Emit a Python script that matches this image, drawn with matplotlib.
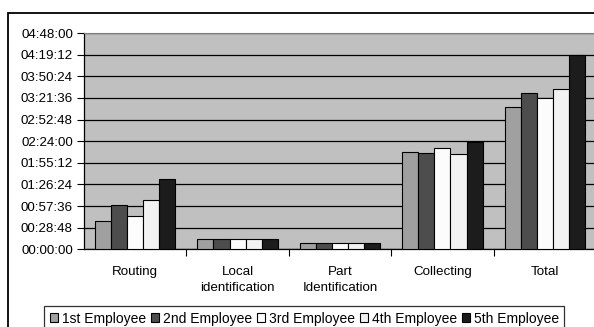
#time spent per task by each employee, grouped bars

import matplotlib.pyplot as plt
import matplotlib.patches as patches
from matplotlib.ticker import FuncFormatter, FixedLocator
import numpy as np

# task categories and times in minutes for each employee
tasks = ["Routing", "Local\nidentification", "Part\nIdentification", "Collecting", "Total"]
employees = ["1st Employee", "2nd Employee", "3rd Employee", "4th Employee", "5th Employee"]
emp1 = [37.3, 13.3, 8.0, 130.0, 189.0]
emp2 = [58.6, 13.3, 8.0, 127.8, 207.7]
emp3 = [44.0, 13.3, 8.0, 134.9, 201.9]
emp4 = [65.6, 13.3, 8.0, 126.5, 213.8]
emp5 = [93.6, 13.3, 8.0, 142.9, 258.7]
colors = ["#a0a0a0", "#4d4d4d", "#fcfcfc", "#f2f2f2", "#1c1c1c"]


def hms(v, pos=None):
    secs = int(round(v * 60))
    return "%02d:%02d:%02d" % (secs // 3600, (secs % 3600) // 60, secs % 60)


plt.rcParams['font.family'] = ['Liberation Sans', 'DejaVu Sans']
fig = plt.figure(figsize=(5.94, 3.27), dpi=100)
ax = fig.add_axes([84 / 594, 1 - 249.3 / 327, 512 / 594, 216.3 / 327])
ax.set_facecolor("#c0c0c0")

x = np.arange(len(tasks))
width = 0.157
for i, vals in enumerate([emp1, emp2, emp3, emp4, emp5]):
    ax.bar(x + (i - 2) * width, vals, width, color=colors[i], edgecolor="black",
           linewidth=0.8, label=employees[i], zorder=3)

yticks = np.arange(0, 288.1, 28.8)
ax.set_ylim(0, 288)
ax.set_xlim(-0.5, 4.5)
ax.yaxis.set_major_locator(FixedLocator(yticks))
ax.yaxis.set_major_formatter(FuncFormatter(hms))
ax.set_xticks(x)
ax.set_xticklabels(tasks, fontsize=9.6, linespacing=1.4, va="top")
ax.xaxis.set_minor_locator(FixedLocator(np.arange(0.5, 4.5, 1.0)))
ax.tick_params(axis="x", which="major", length=0, pad=12)
ax.tick_params(axis="x", which="minor", length=5, width=0.8, direction="out")
ax.tick_params(axis="y", length=5, width=0.8, pad=3, labelsize=9.6)
ax.yaxis.grid(True, color="black", linewidth=0.9, zorder=1)
ax.set_axisbelow(True)
ax.spines["left"].set_linewidth(0.9)
ax.spines["bottom"].set_linewidth(0.9)
ax.spines["top"].set_color("#808080")
ax.spines["right"].set_visible(False)

# outer chart frame
fig.patches.append(patches.Rectangle((8 / 594, -0.2), 1.2, 1.2 - 13 / 327,
                                     transform=fig.transFigure, fill=False,
                                     edgecolor="black", linewidth=1.3))

leg = fig.legend(loc="upper left", bbox_to_anchor=(44 / 594, 1 - 306 / 327), ncol=5,
                 fontsize=10, frameon=True, fancybox=False, edgecolor="black",
                 handlelength=0.58, handleheight=0.58, handletextpad=0.29,
                 columnspacing=0.35, borderpad=0.4, borderaxespad=0)
leg.get_frame().set_linewidth(0.9)

plt.savefig("out.png", dpi=100)
